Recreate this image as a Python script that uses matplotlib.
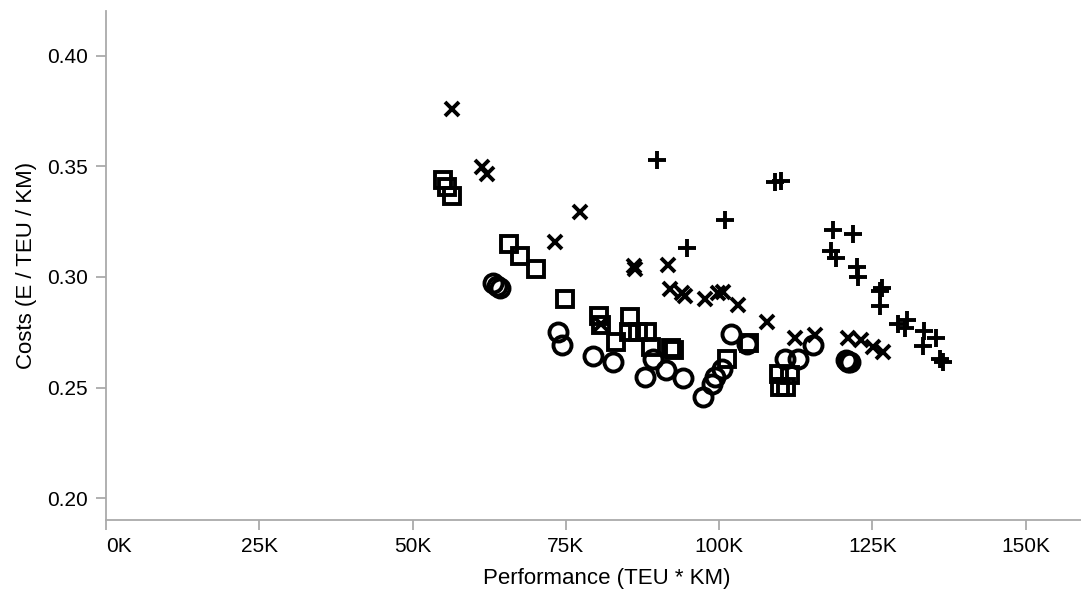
import matplotlib
matplotlib.use("Agg")
import matplotlib.pyplot as plt
from matplotlib.ticker import FuncFormatter

plt.rcParams['font.family'] = ['Liberation Sans', 'DejaVu Sans']

# performance (TEU * KM) and costs (E / TEU / KM) per route variant
circle_x = [63050, 63750, 64200, 73750, 74300, 79450, 82700, 87900, 89200, 91400, 94100, 97300,
            98800, 99300, 100400, 102000, 104500, 110700, 112900, 115300, 120700, 121000, 121300]
circle_y = [0.2972, 0.2958, 0.2949, 0.2751, 0.2691, 0.2644, 0.2616, 0.2548, 0.2631, 0.2578, 0.2541, 0.2457,
            0.2518, 0.2548, 0.2586, 0.2744, 0.2699, 0.2631, 0.2631, 0.2691, 0.2624, 0.2617, 0.2615]

square_x = [54900, 55600, 56400, 65700, 67500, 70100, 74800, 80400, 80700, 85400, 83200, 85300,
            86800, 88200, 88900, 92100, 92600, 101200, 104800, 109700, 111500, 109900, 110900]
square_y = [0.3436, 0.3406, 0.3364, 0.3147, 0.3093, 0.3037, 0.2902, 0.2822, 0.2782, 0.2817, 0.2704, 0.2750,
            0.2750, 0.2750, 0.2682, 0.2677, 0.2668, 0.2628, 0.2700, 0.2560, 0.2556, 0.2502, 0.2502]

cross_x = [56400, 61300, 62100, 77300, 73200, 86100, 86300, 91700, 91900, 93900, 94400, 97700,
           99800, 100700, 103100, 107800, 80800, 112300, 115600, 121000, 123200, 125100, 126700]
cross_y = [0.3759, 0.3496, 0.3466, 0.3293, 0.3157, 0.3050, 0.3037, 0.3055, 0.2947, 0.2925, 0.2915, 0.2902,
           0.2925, 0.2932, 0.2872, 0.2796, 0.2789, 0.2722, 0.2736, 0.2722, 0.2714, 0.2684, 0.2661]

plus_x = [89800, 100900, 94700, 109100, 110000, 118600, 121800, 118300, 119100, 122400, 122600,
          126200, 126500, 126200, 129200, 130600, 130300, 133400, 135300, 133300, 136000, 136500]
plus_y = [0.3529, 0.3255, 0.3131, 0.3428, 0.3431, 0.3210, 0.3195, 0.3118, 0.3086, 0.3046, 0.3000,
          0.2937, 0.2949, 0.2867, 0.2789, 0.2806, 0.2770, 0.2757, 0.2722, 0.2689, 0.2631, 0.2616]

x_ticks = [0, 25000, 50000, 75000, 100000, 125000, 150000]
y_ticks = [0.20, 0.25, 0.30, 0.35, 0.40]

fig = plt.figure(figsize=(10.81, 5.92), dpi=100)
ax = fig.add_axes([0.098, 0.121, 0.902, 0.860])

style = dict(ls='none', mfc='none', mec='black', color='black', mew=2.8)
ax.plot(circle_x, circle_y, marker='o', ms=13, **style)
ax.plot(square_x, square_y, marker='s', ms=12, **style)
ax.plot(cross_x, cross_y, marker='x', ms=10.5, **style)
ax.plot(plus_x, plus_y, marker='+', ms=12.5, **style)

ax.set_xlim(0, 159000)
ax.set_ylim(0.19, 0.42)
ax.set_xticks(x_ticks)
ax.set_yticks(y_ticks)
ax.xaxis.set_major_formatter(FuncFormatter(lambda v, p: f"{v / 1000:.0f}K"))
ax.yaxis.set_major_formatter(FuncFormatter(lambda v, p: f"{v:.2f}"))

for side in ['top', 'right']:
    ax.spines[side].set_visible(False)
for side in ['left', 'bottom']:
    ax.spines[side].set_color('#aaaaaa')
    ax.spines[side].set_linewidth(1.3)

ax.tick_params(axis='both', colors='#aaaaaa', labelcolor='black', length=7, width=1.3, labelsize=15)
ax.tick_params(axis='y', pad=6)
ax.tick_params(axis='x', pad=5)

# keep the first x label inside the axis
fig.canvas.draw()
first = ax.get_xticklabels()[0]
first.set_ha('left')

ax.set_xlabel("Performance (TEU * KM)", fontsize=16)
ax.set_ylabel("Costs (E / TEU / KM)", fontsize=16)
ax.xaxis.set_label_coords(0.514, -0.093)
ax.yaxis.set_label_coords(-0.071, 0.5)

fig.savefig("out.png", dpi=100)
